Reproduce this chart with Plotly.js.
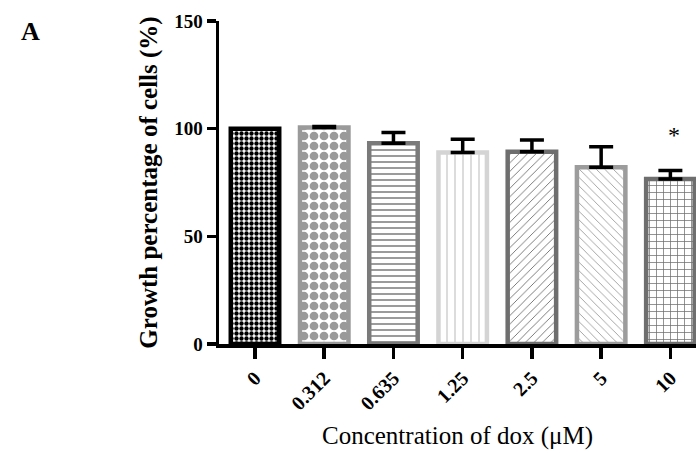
<!DOCTYPE html>
<html>
<head>
<meta charset="utf-8">
<script src="https://cdn.plot.ly/plotly-3.0.1.min.js"></script>
<style>html,body{margin:0;padding:0;background:#fff;}#chart{width:696px;height:454px;}</style>
</head>
<body>
<div id="chart"></div>
<script>
// Data
const concentrations = ["0", "0.312", "0.635", "1.25", "2.5", "5", "10"];
const growthPercent = [100, 100.5, 93.2, 88.9, 89.3, 82.1, 76.6];
const sdUpper = [0, 0.5, 5.0, 6.2, 5.4, 9.5, 4.0];
const significance = ["", "", "", "", "", "", "*"];
const starLevel = [0, 0, 0, 0, 0, 0, 97];

// Styles
const borderColors = ["#000000", "#9a9a9a", "#7a7a7a", "#d4d4d4", "#6e6e6e", "#9c9c9c", "#6e6e6e"];
const patternShapes = [".", ".", "-", "|", "/", "\\", "+"];
const patternColors = ["#000000", "#9a9a9a", "#7a7a7a", "#d4d4d4", "#6e6e6e", "#9c9c9c", "#6e6e6e"];
const patternSizes = [5, 10, 6, 8, 6, 6, 7];
const patternSolidity = [0.6, 0.6, 0.25, 0.2, 0.15, 0.15, 0.2];

const serif = "Liberation Serif, DejaVu Serif, serif";

const trace = {
  type: "bar",
  x: concentrations,
  y: growthPercent,
  width: 0.7,
  marker: {
    color: "#ffffff",
    line: {color: borderColors, width: 4.5},
    pattern: {
      shape: patternShapes,
      fgcolor: patternColors,
      bgcolor: "#ffffff",
      size: patternSizes,
      solidity: patternSolidity
    }
  },
  error_y: {
    type: "data",
    symmetric: false,
    array: sdUpper,
    arrayminus: sdUpper.map(() => 0),
    color: "#000000",
    thickness: 3.5,
    width: 12
  },
  hoverinfo: "none"
};

const annotations = [];
significance.forEach((s, i) => {
  if (s) {
    annotations.push({
      x: i, y: starLevel[i], xref: "x", yref: "y",
      text: s, showarrow: false,
      font: {family: serif, size: 24, color: "#000"},
      xshift: 4
    });
  }
});
annotations.push({
  xref: "paper", yref: "paper",
  x: (30 - 219) / 477, y: 1 - (31 - 21) / 323, xanchor: "center", yanchor: "middle",
  text: "<b>A</b>", showarrow: false,
  font: {family: serif, size: 26, color: "#000"}
});

const layout = {
  width: 696, height: 454,
  margin: {l: 219, r: 0, t: 21, b: 110, pad: 0},
  paper_bgcolor: "#ffffff", plot_bgcolor: "#ffffff",
  showlegend: false,
  xaxis: {
    type: "category",
    range: [-0.52, 6.37],
    showline: true, linecolor: "#000", linewidth: 3.5,
    ticks: "outside", ticklen: 11, tickwidth: 3.5, tickcolor: "#000",
    tickangle: -45,
    tickfont: {family: serif, size: 20, color: "#000", weight: "bold"},
    showgrid: false, zeroline: false,
    title: {text: "Concentration of dox (μM)", font: {family: serif, size: 25, color: "#000"}, standoff: 14}
  },
  yaxis: {
    range: [0, 150],
    tickvals: [0, 50, 100, 150],
    showline: true, linecolor: "#000", linewidth: 3.5,
    ticks: "outside", ticklen: 9, tickwidth: 3.5, tickcolor: "#000",
    tickfont: {family: serif, size: 19, color: "#000", weight: "bold"},
    showgrid: false, zeroline: false,
    title: {text: "<b>Growth percentage of cells (%)</b>", font: {family: serif, size: 25, color: "#000"}, standoff: 10}
  },
  annotations: annotations
};

Plotly.newPlot("chart", [trace], layout, {staticPlot: true, displayModeBar: false});
</script>
</body>
</html>
